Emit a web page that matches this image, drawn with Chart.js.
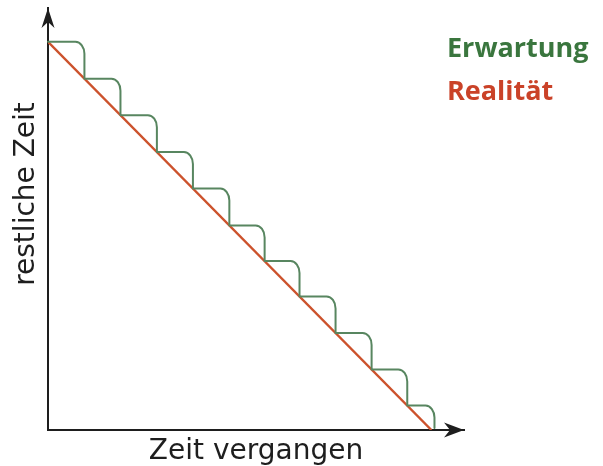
<!DOCTYPE html>
<html>
<head>
<meta charset="utf-8">
<script src="https://cdn.jsdelivr.net/npm/chart.js@4.4.1/dist/chart.umd.min.js"></script>
<style>
  html, body { margin: 0; padding: 0; background: #ffffff; }
  #wrap { width: 603px; height: 466px; }
</style>
</head>
<body>
<div id="wrap"><canvas id="c" width="603" height="466"></canvas></div>
<script>
// ---- data ----
const seriesNames = ['Erwartung', 'Realität'];
const xTitle = 'Zeit vergangen';
const yTitle = 'restliche Zeit';
// "Erwartung": step corners (x where each step starts, flat level of that step)
const expectX = [0, 9.5, 18.9, 28.4, 37.8, 47.3, 56.5, 65.6, 75.0, 84.4, 93.7, 100.8];
const expectY = [100, 90.5, 81.1, 71.6, 62.2, 52.7, 43.5, 34.4, 25.0, 15.6, 6.3, 0.5];
// "Realität": straight line
const realX = [0, 100];
const realY = [100, 0];

const GREEN_LINE = 'rgb(88,134,96)';
const RED_LINE = 'rgb(204,82,44)';
const GREEN_TEXT = 'rgb(58,118,62)';
const RED_TEXT = 'rgb(202,66,40)';
const AXIS = '#1e1e1e';

const toPts = (xs, ys) => xs.map((x, i) => ({ x: x, y: ys[i] }));

// draws the stepped "Erwartung" line with rounded corners using the library's point positions
const roundedSteps = {
  id: 'roundedSteps',
  beforeDatasetDraw(chart, args) {
    if (args.index !== 0) return;
    const pts = args.meta.data;
    const ds = chart.data.datasets[0];
    const ctx = chart.ctx;
    const rx = 9, ry = 12, k = 0.5523;
    ctx.save();
    ctx.strokeStyle = ds.borderColor;
    ctx.lineWidth = ds.borderWidth;
    ctx.lineJoin = 'round';
    ctx.lineCap = 'round';
    ctx.beginPath();
    ctx.moveTo(pts[0].x, pts[0].y);
    for (let i = 0; i < pts.length - 1; i++) {
      const a = pts[i], b = pts[i + 1];
      const cx = b.x, cy = a.y;
      ctx.lineTo(cx - rx, cy);
      ctx.bezierCurveTo(cx - rx + k * rx, cy, cx, cy + ry - k * ry, cx, cy + ry);
      ctx.lineTo(b.x, b.y);
    }
    ctx.stroke();
    ctx.restore();
    return false;
  }
};

const decorations = {
  id: 'decorations',
  afterDraw(chart) {
    const ctx = chart.ctx;
    const a = chart.chartArea;
    const xs = chart.scales.x, ys = chart.scales.y;
    const ox = xs.left, oy = ys.bottom;
    ctx.save();
    ctx.fillStyle = AXIS;
    // arrow on x axis
    ctx.beginPath();
    ctx.moveTo(a.right, oy);
    ctx.lineTo(a.right - 20, oy - 7.5);
    ctx.lineTo(a.right - 14, oy);
    ctx.lineTo(a.right - 20, oy + 7.5);
    ctx.closePath();
    ctx.fill();
    // arrow on y axis
    ctx.beginPath();
    ctx.moveTo(ox, a.top);
    ctx.lineTo(ox - 6.5, a.top + 20);
    ctx.lineTo(ox, a.top + 14);
    ctx.lineTo(ox + 6.5, a.top + 20);
    ctx.closePath();
    ctx.fill();
    // y axis title
    ctx.translate(34, 194);
    ctx.rotate(-Math.PI / 2);
    ctx.font = '28px "DejaVu Sans"';
    ctx.textAlign = 'center';
    ctx.textBaseline = 'alphabetic';
    ctx.fillStyle = AXIS;
    ctx.fillText(yTitle, 0, 0);
    ctx.restore();
    // legend texts
    ctx.save();
    ctx.font = 'bold 27px "Open Sans"';
    ctx.textAlign = 'left';
    ctx.textBaseline = 'alphabetic';
    ctx.fillStyle = GREEN_TEXT;
    ctx.fillText(seriesNames[0], 447, 57);
    ctx.fillStyle = RED_TEXT;
    ctx.fillText(seriesNames[1], 447, 100);
    ctx.restore();
  }
};

new Chart(document.getElementById('c'), {
  type: 'line',
  data: {
    datasets: [
      {
        label: seriesNames[0],
        data: toPts(expectX, expectY),
        borderColor: GREEN_LINE,
        borderWidth: 2,
        stepped: 'after',
        pointRadius: 0,
        fill: false
      },
      {
        label: seriesNames[1],
        data: toPts(realX, realY),
        borderColor: RED_LINE,
        borderWidth: 2.4,
        pointRadius: 0,
        fill: false
      }
    ]
  },
  options: {
    responsive: false,
    animation: false,
    devicePixelRatio: 1,
    layout: { padding: { left: 48, top: 8, right: 139, bottom: 0 } },
    plugins: { legend: { display: false }, tooltip: { enabled: false } },
    scales: {
      x: {
        type: 'linear',
        min: 0,
        max: 108.5,
        grid: { display: false, drawTicks: false },
        ticks: { display: false },
        border: { display: true, color: AXIS, width: 2 },
        title: {
          display: true,
          text: xTitle,
          color: AXIS,
          font: { family: 'DejaVu Sans', size: 28, lineHeight: 1 },
          padding: { top: 8, bottom: 0 }
        }
      },
      y: {
        type: 'linear',
        min: 0,
        max: 108.7,
        grid: { display: false, drawTicks: false },
        ticks: { display: false },
        border: { display: true, color: AXIS, width: 2 },
        title: { display: false }
      }
    }
  },
  plugins: [roundedSteps, decorations]
});
</script>
</body>
</html>
